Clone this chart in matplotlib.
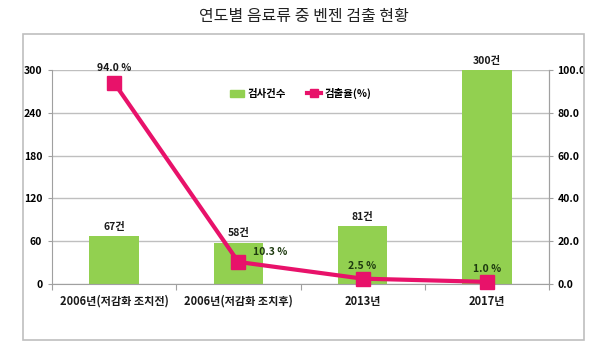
import matplotlib.pyplot as plt
from matplotlib.patches import Rectangle
from matplotlib.lines import Line2D

plt.rcParams['font.family'] = ['Noto Sans CJK KR', 'DejaVu Sans']

categories = ['2006년(저감화 조치전)', '2006년(저감화 조치후)', '2013년', '2017년']
counts = [67, 58, 81, 300]
rates = [94.0, 10.3, 2.5, 1.0]
rate_labels = ['94.0 %', '10.3 %', '2.5 %', '1.0 %']

green = '#92D050'
pink = '#E8126A'
grid_c = '#BFBFBF'
txt_green = '#1E3A10'

fig = plt.figure(figsize=(6.08, 3.55), dpi=100)
fig.patches.append(Rectangle((23 / 608, 1 - 340 / 355), 561 / 608, 306 / 355,
                             transform=fig.transFigure, fill=False,
                             edgecolor='#BFBFBF', linewidth=1.2))
fig.text(0.5, 1 - 16 / 355, '연도별 음료류 중 벤젠 검출 현황', ha='center', va='center',
         fontsize=11.5, color='#222222', fontweight='medium')

ax = fig.add_axes([52 / 608, 1 - 284 / 355, 497 / 608, 214 / 355])
x = list(range(len(categories)))
bars = ax.bar(x, counts, width=0.4, color=green, zorder=2)
ax.set_xlim(-0.5, 3.5)
ax.set_ylim(0, 300)
ax.set_yticks(range(0, 301, 60))
ax.yaxis.grid(True, color=grid_c, linewidth=1, zorder=0)
ax.set_axisbelow(True)
ax.spines['top'].set_visible(False)
for s in ['left', 'bottom', 'right']:
    ax.spines[s].set_color('#A0A0A0')
ax.set_xticks([-0.5, 0.5, 1.5, 2.5, 3.5])
ax.set_xticklabels([])
ax.tick_params(axis='x', length=4, color='#A0A0A0')
ax.tick_params(axis='y', length=3, color='#A0A0A0', labelsize=7.5, pad=4)
for lab in ax.get_yticklabels():
    lab.set_fontweight('bold')
for i, c in enumerate(categories):
    ax.text(i, -0.08, c, transform=ax.get_xaxis_transform(), ha='center', va='center',
            fontsize=8, fontweight='bold', color='#1A1A1A')
for i, v in enumerate(counts):
    ax.text(i, v + 6, f'{v}건', ha='center', va='bottom', fontsize=7.5,
            fontweight='bold', color='#1A1A1A', clip_on=False)

ax2 = ax.twinx()
ax2.set_ylim(0, 100)
ax2.set_yticks(range(0, 101, 20))
ax2.set_yticklabels([f'{v:.1f}' for v in range(0, 101, 20)])
ax2.plot(x, rates, color=pink, linewidth=3, marker='s', markersize=10, zorder=3,
         clip_on=False)
for s in ['top', 'left', 'bottom']:
    ax2.spines[s].set_visible(False)
ax2.spines['right'].set_color('#A0A0A0')
ax2.tick_params(axis='y', length=3, color='#A0A0A0', labelsize=7.5, pad=3)
for lab in ax2.get_yticklabels():
    lab.set_fontweight('bold')
offsets = [(0, 4.5, 'center'), (0.12, 2.5, 'left'), (0, 3.5, 'center'), (0, 3.5, 'center')]
for i, (v, t) in enumerate(zip(rates, rate_labels)):
    dx, dy, ha = offsets[i]
    ax2.text(i + dx, v + dy, t, ha=ha, va='bottom', fontsize=7.5, fontweight='bold',
             color=txt_green if i else '#1A1A1A', clip_on=False)

handles = [Rectangle((0, 0), 1, 1, color=green),
           Line2D([], [], color=pink, linewidth=3, marker='s', markersize=6)]
ax2.legend(handles, ['검사건수', '검출율(%)'], loc='center', bbox_to_anchor=(0.5, 0.89),
           ncol=2, frameon=False, handlelength=1.4, handletextpad=0.3, columnspacing=2.0,
           prop={'size': 7.5, 'weight': 'bold'})

fig.savefig('out.png', dpi=100)
